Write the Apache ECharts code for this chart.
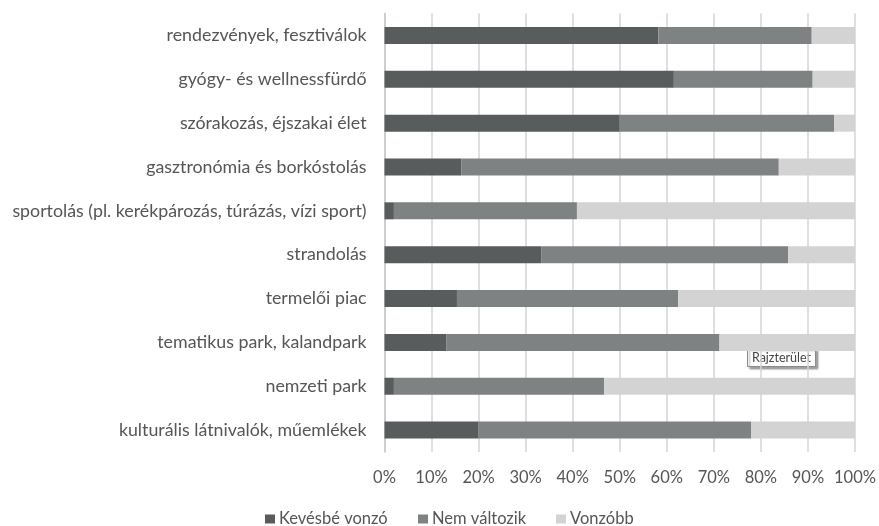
<!DOCTYPE html>
<html>
<head>
<meta charset="utf-8">
<script src="https://cdn.jsdelivr.net/npm/echarts@6/dist/echarts.min.js"></script>
<style>
html,body{margin:0;padding:0;background:#fff;}
#chart{width:879px;height:526px;}
</style>
</head>
<body>
<div id="chart"></div>
<script>
const categories = [
  'rendezvények, fesztiválok',
  'gyógy- és wellnessfürdő',
  'szórakozás, éjszakai élet',
  'gasztronómia és borkóstolás',
  'sportolás (pl. kerékpározás, túrázás, vízi sport)',
  'strandolás',
  'termelői piac',
  'tematikus park, kalandpark',
  'nemzeti park',
  'kulturális látnivalók, műemlékek'
];
const seriesNames = ['Kevésbé vonzó', 'Nem változik', 'Vonzóbb'];
const kevesbeVonzo = [58.2, 61.5, 50.0, 16.3, 2.0, 33.3, 15.4, 13.2, 2.0, 19.9];
const nemValtozik  = [32.6, 29.5, 45.6, 67.5, 38.9, 52.5, 47.0, 58.0, 44.7, 58.0];
const vonzobb      = [9.2, 9.0, 4.4, 16.2, 59.1, 14.2, 37.6, 28.8, 53.3, 22.1];
const tickLabels = ['0%','10%','20%','30%','40%','50%','60%','70%','80%','90%','100%'];

const colors = ['#585c5d', '#7f8283', '#d3d3d3'];
const fontFam = 'Lato, sans-serif';
const textColor = '#555555';
const fs = 16.5;
const legendLefts = [260, 413, 551];

const chart = echarts.init(document.getElementById('chart'), null, {renderer: 'canvas'});
const values = [kevesbeVonzo, nemValtozik, vonzobb];

chart.setOption({
  animation: false,
  color: colors,
  textStyle: {fontFamily: fontFam},
  grid: {left: 384.5, right: 24, top: 13.5, bottom: 74, containLabel: false},
  legend: seriesNames.map(function (name, i) {
    return {
      top: 505.5,
      left: legendLefts[i],
      itemWidth: 10,
      itemHeight: 9,
      icon: 'rect',
      selectedMode: false,
      textStyle: {color: textColor, fontSize: fs, fontFamily: fontFam, padding: [0,0,0,-1]},
      data: [name]
    };
  }),
  xAxis: {
    type: 'value',
    min: 0,
    max: 100,
    interval: 10,
    axisLine: {show: false},
    axisTick: {show: false},
    splitLine: {show: true, lineStyle: {color: '#d4d4d4', width: 1.5}},
    axisLabel: {
      color: textColor, fontSize: fs, fontFamily: fontFam, margin: 17,
      formatter: function (v) { return tickLabels[Math.round(v / 10)]; }
    }
  },
  yAxis: {
    type: 'category',
    inverse: true,
    data: categories,
    axisLine: {show: true, lineStyle: {color: '#c8c8c8', width: 1.5}},
    axisTick: {show: false},
    axisLabel: {color: textColor, fontSize: 17.8, fontFamily: fontFam, margin: 18}
  },
  series: seriesNames.map(function (name, i) {
    return {
      name: name,
      type: 'bar',
      stack: 'total',
      barWidth: 17,
      data: values[i],
      itemStyle: {color: colors[i]}
    };
  }),
  graphic: [{
    type: 'group',
    left: 747,
    top: 348,
    children: [{
      type: 'rect',
      shape: {x: 0, y: 0, width: 68, height: 18},
      style: {fill: '#ffffff', stroke: '#8a8a8a', lineWidth: 1,
        shadowBlur: 2, shadowOffsetX: 2, shadowOffsetY: 2, shadowColor: 'rgba(0,0,0,0.35)'}
    }, {
      type: 'text',
      x: 34, y: 9,
      style: {text: 'Rajzterület', fill: '#444444', fontSize: 12.5, fontFamily: fontFam,
        align: 'center', verticalAlign: 'middle'}
    }]
  }]
});
</script>
</body>
</html>
